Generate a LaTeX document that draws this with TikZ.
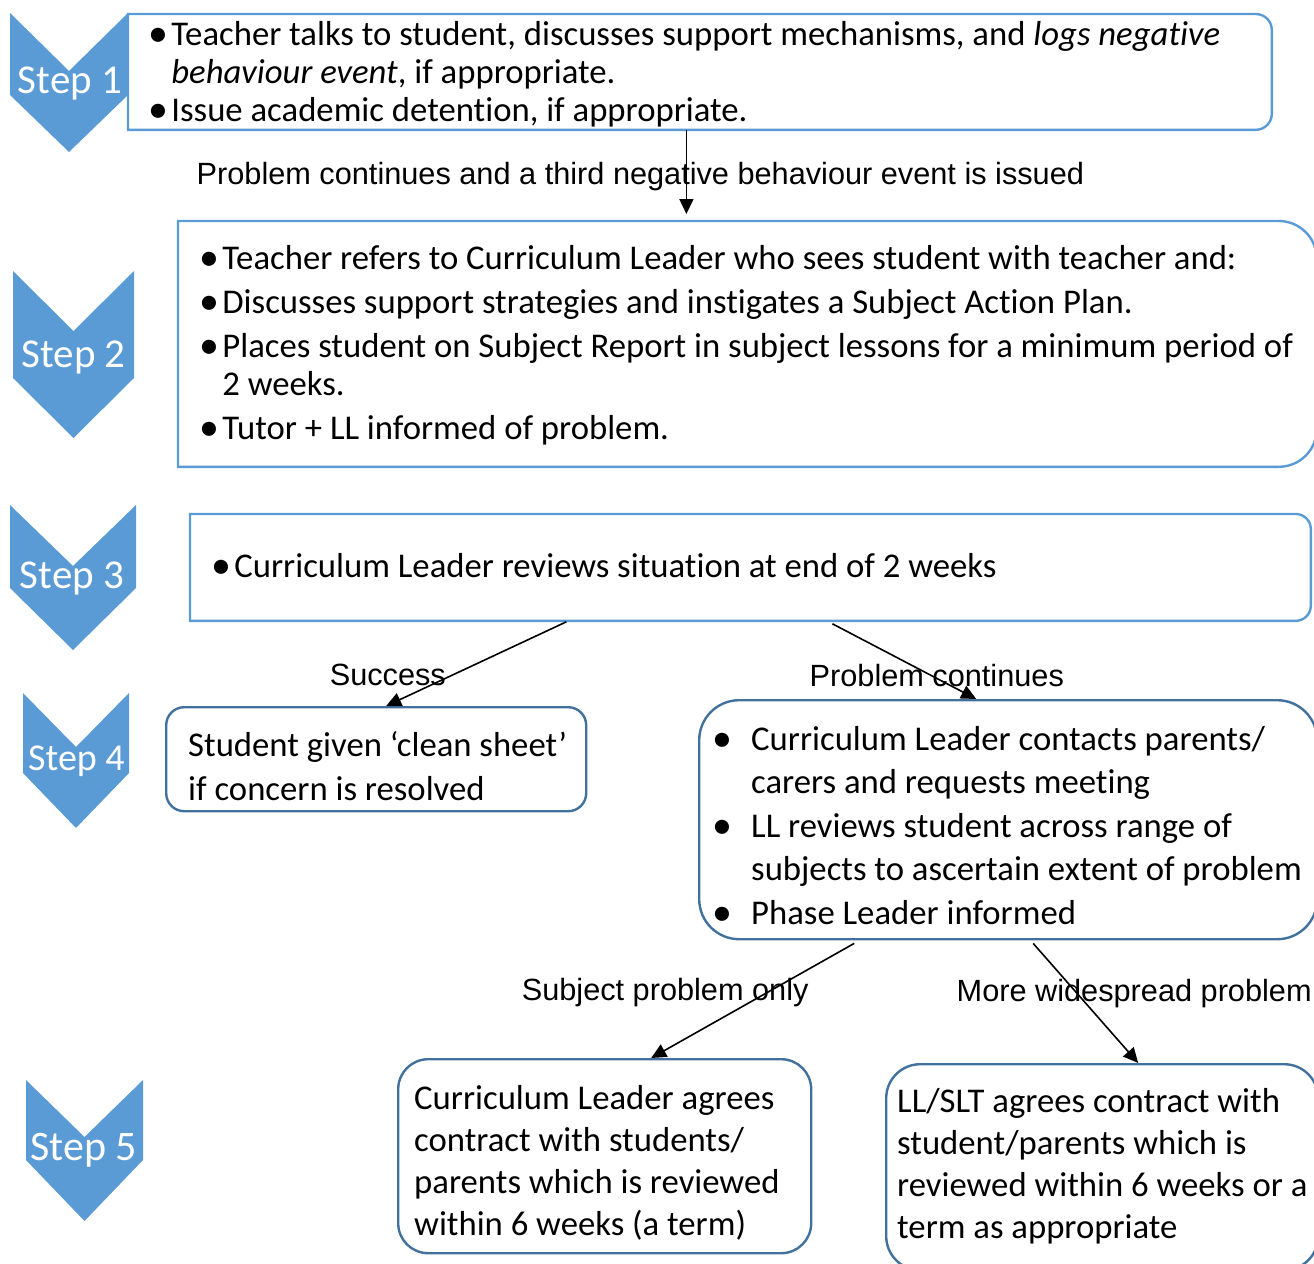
\documentclass[tikz,border=0pt]{standalone}
\usepackage{fontspec}
\setmainfont{Carlito}[Ligatures=NoCommon]
\newfontfamily\labelfont{Liberation Sans}
\usetikzlibrary{arrows.meta,calc}

\definecolor{stepblue}{HTML}{5B9BD5}
\definecolor{boxblue}{HTML}{41719C}

\newcommand{\boxfont}[1]{\fontsize{17.35}{#1}\selectfont}
\newcommand{\bul}[1][11.5pt]{\makebox[#1][l]{\raisebox{-0.03em}{\scalebox{1.15}{\textbullet}}}}
\newcommand{\ind}[1][11.5pt]{\hspace*{#1}}
% text lines of a box, lowered a little without changing its size
\newcommand{\lines}[2][0pt]{\spaceskip=0pt\relax
  \raisebox{-#1}[\height][\depth]{\begin{tabular}{@{}l@{}}#2\end{tabular}}}
% box outline, square on the left, round on the right
\newcommand{\rightround}[2]{%
  \draw[lightbox] (#1.north west) -- ([xshift=-#2]#1.north east)
    arc[start angle=90,end angle=0,radius=#2] -- ([yshift=#2]#1.south east)
    arc[start angle=0,end angle=-90,radius=#2] -- (#1.south west) -- cycle;}

\begin{document}
\begin{tikzpicture}[x=0.5pt,y=-0.5pt,
    chevron/.style={fill=stepblue},
    steplabel/.style={text=white,anchor=base,inner sep=0pt},
    lightbox/.style={draw=stepblue,line width=1.2pt},
    box/.style={anchor=north west,align=left,inner ysep=0pt,font=\boxfont{19}},
    roundbox/.style={box,draw=boxblue,line width=1.2pt},
    arrow/.style={-{Triangle[length=7.5pt,width=7pt]},line width=0.8pt},
    lbl/.style={font=\labelfont\fontsize{15.35}{18}\selectfont,inner sep=0pt}]

\useasboundingbox (0,0) rectangle (1314,1264);
\clip (0,0) rectangle (1314,1264);

% steps down the left side
\foreach \n/\l/\r/\t/\a/\b/\c/\tx/\ty/\s in {1/10/128/13/71/95/152/70/93/20.5,
    2/13/134/271/331/378/438/73.5/367/20.5, 3/10/136/505/566/588/650/72/588/20.5,
    4/23/129/693/747/773/828/76.5/770/19, 5/26/143/1080/1137/1160/1221/83.5/1160/21}{
  \fill[chevron] (\l,\t) -- ({(\l+\r)/2},\a) -- (\r,\t) -- (\r,\b) -- ({(\l+\r)/2},\c) -- (\l,\b) -- cycle;
  \node[steplabel,font=\fontsize{\s}{\s}\selectfont] (step\n) at (\tx,\ty) {Step \n};
}

% boxes
\node[box,minimum width=571.5pt,minimum height=57.5pt,text width=551.5pt,inner xsep=10pt] (s1) at (128,14) {%
  \lines[2pt]{\bul Teacher talks to student, discusses support mechanisms, and \textit{logs negative}\\
  \ind\textit{behaviour event}, if appropriate.\\
  \bul Issue academic detention, if appropriate.}};
\rightround{s1}{8pt}

\node[box,minimum width=569pt,minimum height=122.5pt,text width=548pt,inner xsep=10.5pt] (s2) at (178,221) {%
  \lines[1.5pt]{\bul Teacher refers to Curriculum Leader who sees student with teacher and:\\[3pt]
  \bul Discusses support strategies and instigates a Subject Action Plan.\\[3pt]
  \bul Places student on Subject Report in subject lessons for a minimum period of\\
  \ind 2 weeks.\\[3pt]
  \bul Tutor + LL informed of problem.}};
\rightround{s2}{19pt}

\node[box,minimum width=560pt,minimum height=53pt,text width=539pt,inner xsep=10.5pt] (s3) at (190,514) {%
  \lines[1pt]{\bul Curriculum Leader reviews situation at end of 2 weeks}};
\rightround{s3}{7.5pt}

\node[roundbox,rounded corners=9pt,minimum width=210pt,minimum height=52pt,text width=188pt,inner xsep=11pt,
  font=\boxfont{22}] (succ) at (165,706) {%
  \lines[5pt]{Student given ‘clean sheet’\\
  if concern is resolved}};

\node[roundbox,rounded corners=20pt,minimum width=309pt,minimum height=119.5pt,text width=296pt,inner xsep=6.5pt,
  font=\boxfont{21.75}] (cont) at (698,699) {%
  \lines[4.5pt]{\bul[19.5pt]Curriculum Leader contacts parents/\\
  \ind[19.5pt]carers and requests meeting\\
  \bul[19.5pt]LL reviews student across range of\\
  \ind[19.5pt]subjects to ascertain extent of problem\\
  \bul[19.5pt]Phase Leader informed}};

\node[roundbox,rounded corners=15pt,minimum width=206.5pt,minimum height=97pt,text width=190.5pt,inner xsep=8pt,
  font=\boxfont{21}] (subj) at (397,1058) {%
  \lines[4pt]{Curriculum Leader agrees\\
  contract with students/\\
  parents which is reviewed\\
  within 6 weeks (a term)}};

\node[roundbox,rounded corners=17pt,minimum width=216pt,minimum height=103pt,text width=205pt,inner xsep=5.5pt,
  font=\boxfont{21}] (wide) at (885,1063) {%
  \lines{LL/SLT agrees contract with\\
  student/parents which is\\
  reviewed within 6 weeks or a\\
  term as appropriate}};

% connectors
\path[arrow]
  ($(s1.south)+(-13.5,0)$) edge node[lbl,xshift=-23pt,yshift=-2.25pt] {Problem continues and a third negative behaviour event is issued} ($(s2.north)+(-61,-7)$)
  ($(s3.south)+(-184,1)$) edge node[lbl,xshift=-44.25pt,yshift=-5.75pt] {Success} ($(succ.north)+(10,0)$)
  ($(s3.south)+(82,3)$) edge node[lbl,xshift=16.25pt,yshift=-7.25pt] {Problem continues} ($(cont.north)+(-32,0)$)
  ($(cont.south)+(-154,3)$) edge node[lbl,xshift=-43.75pt,yshift=4pt] {Subject problem only} ($(subj.north)+(46.5,0)$)
  ($(cont.south)+(25,3)$) edge node[lbl,xshift=24.25pt,yshift=5pt] {More widespread problem} ($(wide.north)+(36,0)$);
\end{tikzpicture}
\end{document}
